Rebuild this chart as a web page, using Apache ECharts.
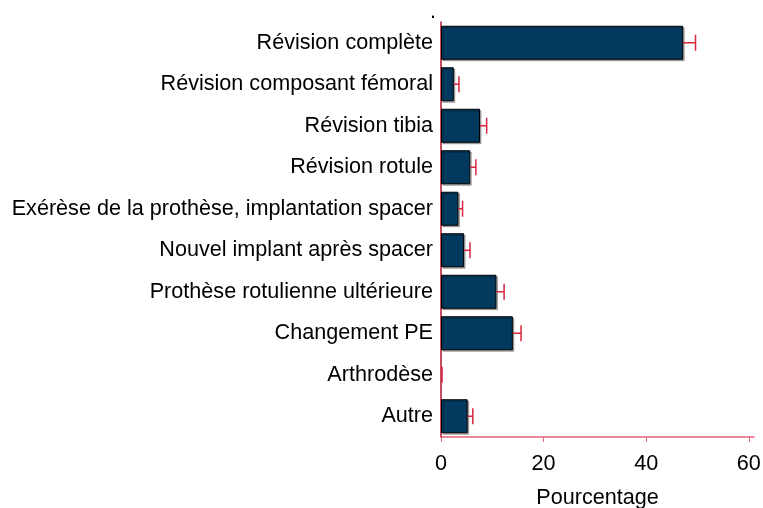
<!DOCTYPE html>
<html>
<head>
<meta charset="utf-8">
<script src="https://cdn.jsdelivr.net/npm/echarts@6/dist/echarts.min.js"></script>
<style>
  html, body { margin: 0; padding: 0; background: #fff; }
  #main { width: 763px; height: 508px; }
</style>
</head>
<body>
<div id="main"></div>
<script>
const categories = [
  'Révision complète',
  'Révision composant fémoral',
  'Révision tibia',
  'Révision rotule',
  'Exérèse de la prothèse, implantation spacer',
  'Nouvel implant après spacer',
  'Prothèse rotulienne ultérieure',
  'Changement PE',
  'Arthrodèse',
  'Autre'
]
// pourcentage et borne haute de l'intervalle
const values = [47.2, 2.5, 7.6, 5.7, 3.4, 4.5, 10.8, 14.0, 0, 5.2]
const upper = [49.6, 3.5, 8.9, 6.8, 4.2, 5.65, 12.3, 15.6, 0.2, 6.2]
const xTicks = [0, 20, 40, 60]

const chart = echarts.init(document.getElementById('main'))

const font = 'Liberation Sans'
const fs = 21.6
const barData = values.map(v => (v === 0 ? { value: v, itemStyle: { borderWidth: 0, shadowColor: 'transparent' } } : v))
const errData = values.map((v, i) => [i, v, upper[i]])

const option = {
  animation: false,
  title: {
    text: '.',
    left: 425,
    top: -4,
    textStyle: { fontSize: fs, fontWeight: 'normal', color: '#000', fontFamily: font }
  },
  grid: { left: 441, top: 22, right: 9, bottom: 71, outerBoundsMode: 'none', containLabel: false },
  xAxis: {
    type: 'value',
    min: 0,
    max: 61,
    name: 'Pourcentage',
    nameLocation: 'middle',
    nameGap: 50,
    nameTextStyle: { fontSize: fs, color: '#000', fontFamily: font },
    splitLine: { show: false },
    axisLine: { show: true, lineStyle: { color: '#e06377', width: 1.5 } },
    axisTick: { show: true, length: 5, lineStyle: { color: '#e06377' }, customValues: xTicks },
    axisLabel: { fontSize: fs, color: '#000', margin: 16, fontFamily: font, customValues: xTicks }
  },
  yAxis: {
    type: 'category',
    data: categories,
    inverse: true,
    axisLine: { show: true, lineStyle: { color: '#b5122b', width: 1.5 } },
    axisTick: { show: false },
    axisLabel: { fontSize: fs, color: '#000', margin: 8, fontFamily: font }
  },
  series: [
    {
      type: 'bar',
      data: barData,
      barCategoryGap: '18%',
      itemStyle: {
        color: '#013a5e',
        borderColor: '#000',
        borderWidth: 1,
        shadowColor: 'rgba(0,0,0,0.3)',
        shadowOffsetX: 1.5,
        shadowOffsetY: 1.5,
        shadowBlur: 0
      }
    },
    {
      type: 'custom',
      data: errData,
      z: 5,
      renderItem: function (params, api) {
        const i = api.value(0)
        const a = api.coord([api.value(1), i])
        const b = api.coord([api.value(2), i])
        const half = 8
        const style = { stroke: '#d7263d', lineWidth: 1.5 }
        return {
          type: 'group',
          children: [
            { type: 'line', shape: { x1: a[0], y1: a[1], x2: b[0], y2: b[1] }, style: style },
            { type: 'line', shape: { x1: b[0], y1: b[1] - half, x2: b[0], y2: b[1] + half }, style: style }
          ]
        }
      },
      encode: { x: [1, 2], y: 0 }
    }
  ]
}

chart.setOption(option)
</script>
</body>
</html>
